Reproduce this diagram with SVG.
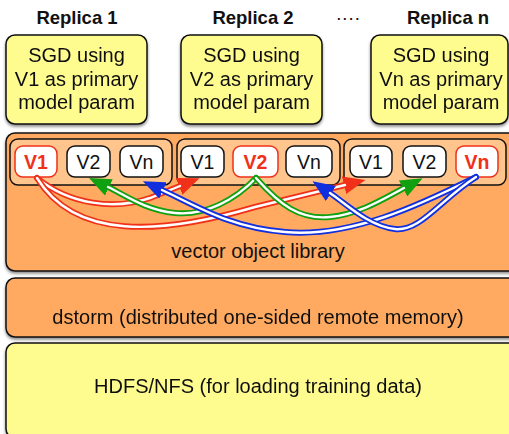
<svg xmlns="http://www.w3.org/2000/svg" width="509" height="434" viewBox="0 0 509 434">
<style>
text{font-family:"Liberation Sans",Arial,Helvetica,sans-serif;fill:#111}
.title{font-size:18.5px;font-weight:bold;text-anchor:middle}
.sgd{font-size:20px;text-anchor:middle}
.layer{font-size:20px;text-anchor:middle}
.yb{fill:#FEFB8F;stroke:#111;stroke-width:1.5}
.ob{fill:#FFAA60;stroke:#111;stroke-width:1.5}
.grp{fill:#FFC58C;stroke:#111;stroke-width:1.5}
.pill{fill:#fff;stroke:#111;stroke-width:1.5}
.pillr{fill:#fff;stroke:#F03018;stroke-width:1.5}
.pt{font-size:19.5px;text-anchor:middle}
.ptr{font-size:19.5px;text-anchor:middle;font-weight:bold;fill:#F03018}
.o{fill:none;stroke-width:6;stroke-linecap:round}
.i{fill:none;stroke:#fff;stroke-width:2.4;stroke-linecap:round}
</style>
<defs>
<filter id="sh" x="-10%" y="-10%" width="120%" height="130%">
<feDropShadow dx="0" dy="2" stdDeviation="1.6" flood-color="#000" flood-opacity="0.45"/>
</filter>
<marker id="ar" markerUnits="userSpaceOnUse" markerWidth="22" markerHeight="18" viewBox="0 0 22 18" refX="1" refY="9" orient="auto"><path d="M0,0 L22,9 L0,18 z" fill="#F03018"/></marker>
<marker id="ag" markerUnits="userSpaceOnUse" markerWidth="22" markerHeight="18" viewBox="0 0 22 18" refX="1" refY="9" orient="auto"><path d="M0,0 L22,9 L0,18 z" fill="#10A010"/></marker>
<marker id="ab" markerUnits="userSpaceOnUse" markerWidth="22" markerHeight="18" viewBox="0 0 22 18" refX="1" refY="9" orient="auto"><path d="M0,0 L22,9 L0,18 z" fill="#1030E0"/></marker>
</defs>

<g id="titles">
<text class="title" x="77" y="24">Replica 1</text>
<text class="title" x="253" y="24">Replica 2</text>
<text class="title" x="348" y="24" style="font-weight:normal">····</text>
<text class="title" x="448" y="24">Replica n</text>
</g>

<g id="replica1" filter="url(#sh)">
<rect class="yb" x="6" y="35" width="141" height="89" rx="9"/>
<text class="sgd" x="76.5" y="62">SGD using</text>
<text class="sgd" x="76.5" y="86">V1 as primary</text>
<text class="sgd" x="76.5" y="109">model param</text>
</g>
<g id="replica2" filter="url(#sh)">
<rect class="yb" x="181" y="35" width="141" height="89" rx="9"/>
<text class="sgd" x="251.5" y="62">SGD using</text>
<text class="sgd" x="251.5" y="86">V2 as primary</text>
<text class="sgd" x="251.5" y="109">model param</text>
</g>
<g id="replican" filter="url(#sh)">
<rect class="yb" x="371" y="35" width="137" height="89" rx="9"/>
<text class="sgd" x="441" y="62">SGD using</text>
<text class="sgd" x="441" y="86">Vn as primary</text>
<text class="sgd" x="441" y="109">model param</text>
</g>

<g id="vector-object-library">
<rect class="ob" x="6" y="133" width="520" height="138" rx="9" filter="url(#sh)"/>
<text class="layer" x="258" y="258">vector object library</text>
</g>

<g id="group1">
<rect class="grp" x="10" y="139" width="162" height="46" rx="8"/>
<rect class="pillr" x="15" y="146" width="42" height="31" rx="8"/><text class="ptr" x="36" y="168.5">V1</text>
<rect class="pill" x="67" y="146" width="43" height="31" rx="8"/><text class="pt" x="88.5" y="168.5">V2</text>
<rect class="pill" x="120" y="146" width="43" height="31" rx="8"/><text class="pt" x="141.5" y="168.5">Vn</text>
</g>
<g id="group2">
<rect class="grp" x="177" y="139" width="163" height="46" rx="8"/>
<rect class="pill" x="181" y="146" width="43" height="31" rx="8"/><text class="pt" x="202.5" y="168.5">V1</text>
<rect class="pillr" x="233" y="146" width="45" height="31" rx="8"/><text class="ptr" x="255.5" y="168.5">V2</text>
<rect class="pill" x="286" y="146" width="46" height="31" rx="8"/><text class="pt" x="309" y="168.5">Vn</text>
</g>
<g id="group3">
<rect class="grp" x="344" y="139" width="162" height="46" rx="8"/>
<rect class="pill" x="350" y="146" width="42" height="31" rx="8"/><text class="pt" x="371" y="168.5">V1</text>
<rect class="pill" x="403" y="146" width="43" height="31" rx="8"/><text class="pt" x="424.5" y="168.5">V2</text>
<rect class="pillr" x="456" y="146" width="42" height="31" rx="8"/><text class="ptr" x="477" y="168.5">Vn</text>
</g>

<g id="connectors">
<path class="o" stroke="#F03018" marker-end="url(#ar)" d="M37,178 C70,205 115,210 150,198 L180,186"/>
<path class="i" d="M37,178 C70,205 115,210 150,198 L180,186"/>
<path class="o" stroke="#F03018" marker-end="url(#ar)" d="M37,178 C75,240 160,235 255,207 L345,185"/>
<path class="i" d="M37,178 C75,240 160,235 255,207 L345,185"/>
<path class="o" stroke="#10A010" marker-end="url(#ag)" d="M256,178 C235,200 205,216 175,213 C145,210 125,195 108,187"/>
<path class="i" d="M256,178 C235,200 205,216 175,213 C145,210 125,195 108,187"/>
<path class="o" stroke="#10A010" marker-end="url(#ag)" d="M256,178 C280,205 300,220 330,217 C360,214 385,198 404,188"/>
<path class="i" d="M256,178 C280,205 300,220 330,217 C360,214 385,198 404,188"/>
<path class="o" stroke="#1030E0" marker-end="url(#ab)" d="M476,177 C420,205 350,238 285,232 C230,228 195,205 162,190"/>
<path class="i" d="M476,177 C420,205 350,238 285,232 C230,228 195,205 162,190"/>
<path class="o" stroke="#1030E0" marker-end="url(#ab)" d="M476,177 C440,200 420,232 395,229 C368,226 345,203 330,193"/>
<path class="i" d="M476,177 C440,200 420,232 395,229 C368,226 345,203 330,193"/>
</g>

<g id="dstorm" filter="url(#sh)">
<rect class="ob" x="6" y="278" width="520" height="59" rx="9"/>
<text class="layer" x="258" y="324">dstorm (distributed one-sided remote memory)</text>
</g>
<g id="hdfs" filter="url(#sh)">
<rect class="yb" x="6" y="343" width="520" height="95" rx="9"/>
<text class="layer" x="258" y="393">HDFS/NFS (for loading training data)</text>
</g>
</svg>
